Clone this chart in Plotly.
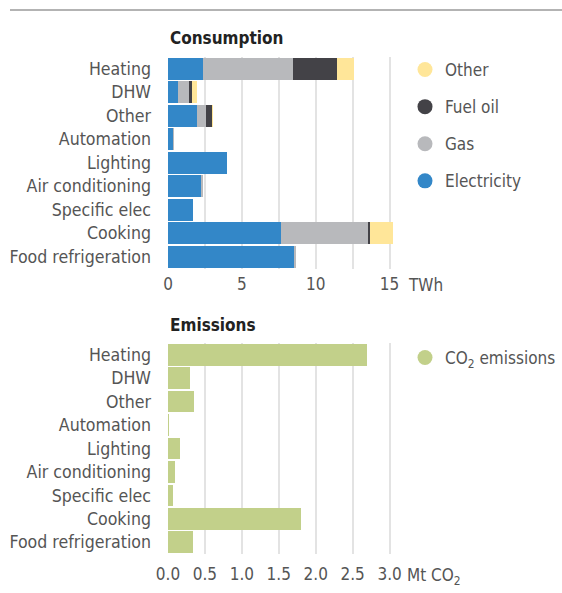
import plotly.graph_objects as go

categories = ["Heating", "DHW", "Other", "Automation", "Lighting",
              "Air conditioning", "Specific elec", "Cooking", "Food refrigeration"]

electricity = [2.37, 0.68, 1.96, 0.36, 3.99, 2.28, 1.69, 7.65, 8.55]
gas         = [6.09, 0.74, 0.61, 0.02, 0.0, 0.04, 0.0, 5.88, 0.05]
fuel_oil    = [2.97, 0.20, 0.41, 0.0, 0.0, 0.0, 0.0, 0.14, 0.0]
other       = [1.15, 0.34, 0.06, 0.0, 0.0, 0.0, 0.0, 1.55, 0.0]

co2_emissions = [2.69, 0.30, 0.35, 0.01, 0.16, 0.095, 0.07, 1.80, 0.34]

energy_ticks = [0, 2.5, 5, 7.5, 10, 12.5, 15]
energy_ticktext = ["0", "", "5", "", "10", "", "15"]
co2_ticks = [0, 0.5, 1.0, 1.5, 2.0, 2.5, 3.0]
co2_ticktext = ["0.0", "0.5", "1.0", "1.5", "2.0", "2.5", "3.0"]

C_ELEC = "#3387C8"
C_GAS = "#B8B9BC"
C_OIL = "#434247"
C_OTHER = "#FFE699"
C_CO2 = "#C2D08A"

FONT = "DejaVu Sans Condensed, sans-serif"
TXT = "#555555"
FS = 17
FS_CAT = 17.6

fig = go.Figure()

series = [("Electricity", electricity, C_ELEC), ("Gas", gas, C_GAS),
          ("Fuel oil", fuel_oil, C_OIL), ("Other", other, C_OTHER)]
for name, vals, col in series:
    fig.add_trace(go.Bar(y=categories, x=vals, orientation="h", name=name,
                         marker=dict(color=col, line=dict(width=0)),
                         showlegend=False, xaxis="x", yaxis="y"))

# legend entries (circles) in reversed order
for name, vals, col in reversed(series):
    fig.add_trace(go.Scatter(x=[None], y=[None], mode="markers", name=name,
                             marker=dict(color=col, size=15, symbol="circle"),
                             legend="legend", legendgroup=name,
                             xaxis="x", yaxis="y"))

fig.add_trace(go.Bar(y=categories, x=co2_emissions, orientation="h",
                     name="CO<sub>2</sub> emissions",
                     marker=dict(color=C_CO2, line=dict(width=0)),
                     showlegend=False, xaxis="x2", yaxis="y2"))
fig.add_trace(go.Scatter(x=[None], y=[None], mode="markers",
                         name="CO<sub>2</sub> emissions",
                         marker=dict(color=C_CO2, size=15, symbol="circle"),
                         legend="legend2", xaxis="x2", yaxis="y2"))

W, H = 562, 593
x0 = 168 / W
x1 = 394 / W

fig.update_layout(
    width=W, height=H,
    margin=dict(l=0, r=0, t=0, b=0, autoexpand=False),
    paper_bgcolor="white", plot_bgcolor="white",
    barmode="stack", bargap=0.08,
    font=dict(family=FONT, size=FS, color=TXT),
    xaxis=dict(domain=[x0, x1], range=[0, 15.3], tickvals=energy_ticks,
               ticktext=energy_ticktext, showgrid=True, gridcolor="#E3E3E3",
               gridwidth=2, zeroline=False, showline=False, ticks="",
               anchor="y", automargin=False, ticklabelstandoff=3,
               tickfont=dict(size=FS, color=TXT)),
    yaxis=dict(domain=[1 - 268.5 / H, 1 - 57 / H], categoryorder="array",
               categoryarray=categories, autorange="reversed", showgrid=False,
               zeroline=False, ticks="", ticklabelstandoff=16, anchor="x",
               automargin=False, tickfont=dict(size=FS_CAT, color=TXT)),
    xaxis2=dict(domain=[x0, x1], range=[0, 3.06], tickvals=co2_ticks,
                ticktext=co2_ticktext, showgrid=True, gridcolor="#E3E3E3",
                gridwidth=2, zeroline=False, showline=False, ticks="",
                anchor="y2", automargin=False, ticklabelstandoff=8,
                tickfont=dict(size=FS, color=TXT)),
    yaxis2=dict(domain=[1 - 554 / H, 1 - 343 / H], categoryorder="array",
                categoryarray=categories, autorange="reversed", showgrid=False,
                zeroline=False, ticks="", ticklabelstandoff=16, anchor="x2",
                automargin=False, tickfont=dict(size=FS_CAT, color=TXT)),
    legend=dict(x=405 / W, y=1 - 52 / H, xanchor="left", yanchor="top",
                font=dict(size=FS, color=TXT), tracegroupgap=12,
                bgcolor="rgba(0,0,0,0)", itemwidth=30),
    legend2=dict(x=405 / W, y=1 - 340 / H, xanchor="left", yanchor="top",
                 font=dict(size=FS, color=TXT), bgcolor="rgba(0,0,0,0)",
                 itemwidth=30),
    shapes=[dict(type="line", xref="paper", yref="paper", x0=10 / W, x1=1,
                 y0=1 - 10 / H, y1=1 - 10 / H,
                 line=dict(color="#9A9A9A", width=1.5))],
    annotations=[
        dict(text="<b>Consumption</b>", xref="paper", yref="paper",
             x=x0, y=1 - 38 / H, xanchor="left", yanchor="middle",
             showarrow=False, font=dict(size=FS, color="#222222", family=FONT)),
        dict(text="<b>Emissions</b>", xref="paper", yref="paper",
             x=x0, y=1 - 325 / H, xanchor="left", yanchor="middle",
             showarrow=False, font=dict(size=FS, color="#222222", family=FONT)),
        dict(text="TWh", xref="x", yref="paper", x=15, y=1 - 284.5 / H,
             xanchor="left", yanchor="middle", xshift=16, showarrow=False,
             font=dict(size=FS, color=TXT)),
        dict(text="Mt CO<sub>2</sub>", xref="x2", yref="paper", x=3.0,
             y=1 - 576 / H, xanchor="left", yanchor="middle", xshift=15,
             showarrow=False, font=dict(size=FS, color=TXT)),
    ],
)

fig.write_html("out.html", config={"displayModeBar": False},
               post_script="document.body.style.margin='0';")
